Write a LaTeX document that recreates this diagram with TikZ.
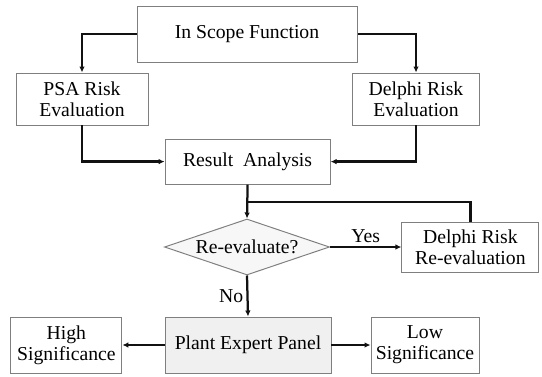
\documentclass[tikz,border=0pt]{standalone}
\usepackage{fontspec}
\setmainfont{Liberation Serif}
\usetikzlibrary{arrows.meta,shapes.geometric}
\definecolor{flowDark}{HTML}{111111}
\definecolor{boxEdge}{HTML}{7F7F7F}
\definecolor{panelFill}{HTML}{F0F0F0}
\definecolor{decisionFill}{HTML}{F7F7F7}
\tikzset{
  >={Latex[length=1.5mm,width=1.4mm]},
  flow/.style={->, draw=flowDark, line width=1.6pt},
  link/.style={draw=flowDark, line width=1.6pt},
  stepbox/.style={draw=boxEdge, line width=0.7pt, fill=white, text=black,
                  inner sep=2pt, align=center, font=\fontsize{14}{15}\selectfont},
  decision/.style={diamond, aspect=3, draw=boxEdge, line width=0.7pt,
                   fill=decisionFill, inner sep=0pt, font=\fontsize{14}{15}\selectfont},
  label/.style={font=\fontsize{14}{15}\selectfont, text=black}
}

\begin{document}
\begin{tikzpicture}
\useasboundingbox (0,0) rectangle (13.55,9.4);

% ------------------------------------------------------------
% TOP: scope and the two risk evaluations
% ------------------------------------------------------------
\node[stepbox, minimum width=5.5cm, minimum height=1.4cm] (scope) at (6.175,8.55) {In Scope Function};
\node[stepbox, minimum width=3.3cm, minimum height=1.3cm] (psa) at (2.05,6.925) {PSA Risk\\Evaluation};
\node[stepbox, minimum width=3.175cm, minimum height=1.3cm] (delphi) at (10.4,6.925) {Delphi Risk\\Evaluation};

\draw[flow] (scope.west) -| (psa.north);
\draw[flow] (scope.east) -| (delphi.north);

% ------------------------------------------------------------
% CENTER: analysis and decision loop
% ------------------------------------------------------------
\node[stepbox, minimum width=4.125cm, minimum height=1.125cm] (result) at (6.19,5.36) {Result~~Analysis};
\node[decision, minimum width=4.125cm, minimum height=1.4cm] (decide) at (6.175,3.225) {Re-evaluate?};
\node[stepbox, minimum width=3.425cm, minimum height=1.25cm] (reeval) at (11.76,3.225) {Delphi Risk\\Re-evaluation};

\draw[flow] (psa.south) |- (result.west);
\draw[flow] (delphi.south) |- (result.east);
\draw[flow] (result.south) -- (decide.north);

% feedback from the re-evaluation
\coordinate (loop) at (6.19,4.35);
\draw[link] (reeval.north) |- (loop);

\draw[flow] (decide.east) -- node[label, above, yshift=-1pt] {Yes} (reeval.west);

% ------------------------------------------------------------
% BOTTOM: expert panel and significance
% ------------------------------------------------------------
\node[stepbox, fill=panelFill, minimum width=4.15cm, minimum height=1.4cm] (plant) at (6.2,0.775) {Plant Expert Panel};
\node[stepbox, minimum width=2.775cm, minimum height=1.4cm] (high) at (1.66,0.775) {High\\Significance};
\node[stepbox, minimum width=2.7cm, minimum height=1.4cm] (low) at (10.625,0.775) {Low\\Significance};

\draw[flow] (decide.south) -- node[label, left, xshift=1pt] {No} (plant.north);
\draw[flow] (plant.west) -- (high.east);
\draw[flow] (plant.east) -- (low.west);

\end{tikzpicture}
\end{document}
